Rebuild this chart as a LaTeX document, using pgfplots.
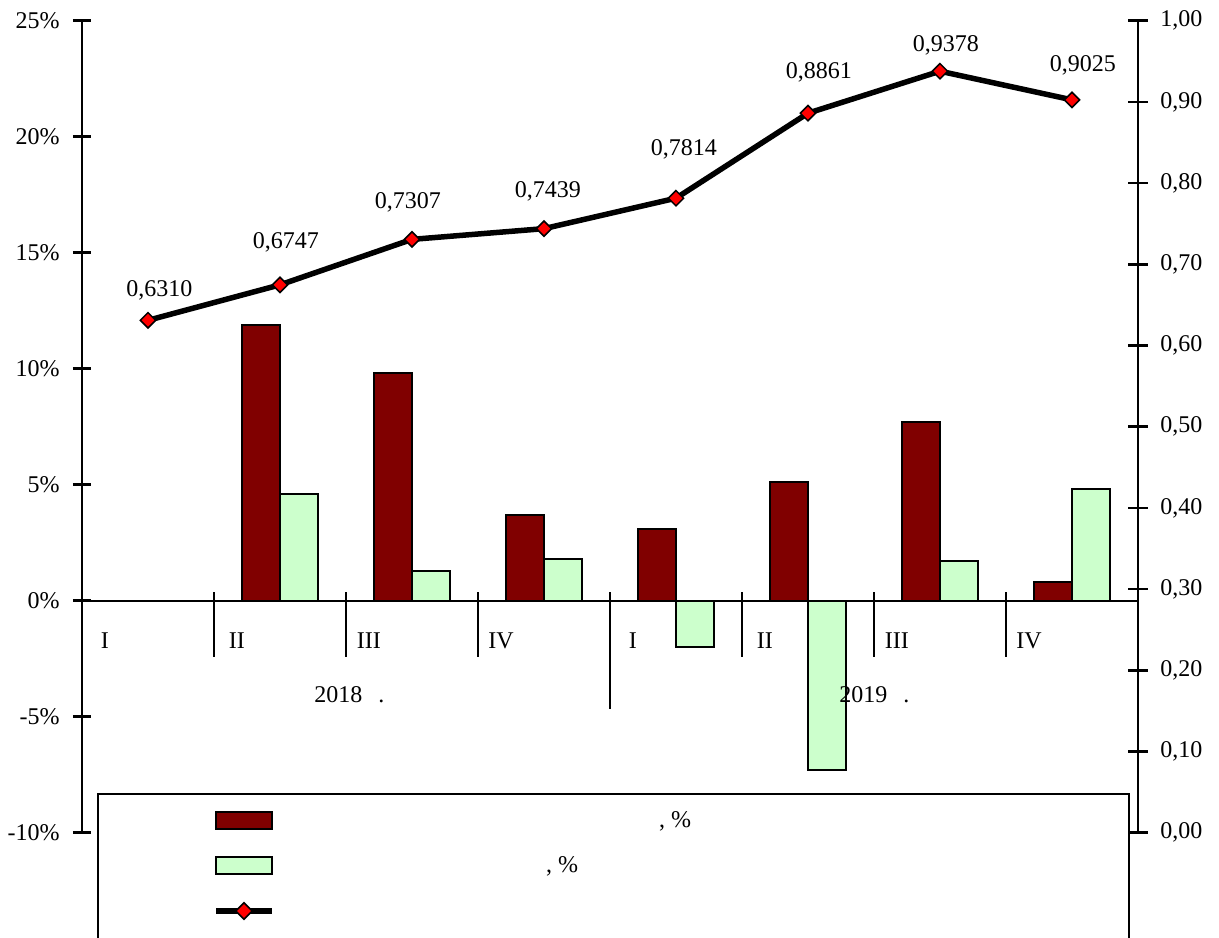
\documentclass[border=0pt]{standalone}
\usepackage{fontspec}
\setmainfont{Liberation Serif}
\usepackage{pgfplots}
\usepackage{pgfplotstable}
\pgfplotsset{compat=1.18}
\definecolor{barred}{RGB}{128,0,0}
\definecolor{bargreen}{RGB}{204,255,204}
\definecolor{mkred}{RGB}{255,0,0}
\pgfplotsset{
  mybarlegend/.style={legend image code/.code={%
      \path[draw=none, fill=none, line width=0pt] (-59bp,-11.25bp) rectangle (38bp,11.25bp);
      \draw[##1] (0bp,-4.25bp) rectangle (28bp,4.25bp);}},
  mylinelegend/.style={legend image code/.code={%
      \path[draw=none, fill=none, line width=0pt] (-59bp,-17bp) rectangle (38bp,11.25bp);
      \draw[mark repeat=2, mark phase=2, ##1] plot coordinates {(0bp,0bp) (14bp,0bp) (28bp,0bp)};}},
}
\pgfplotstableread{
x y dx dy label
0 0.6310 5.75 12   0,6310
1 0.6747 3    18   0,6747
2 0.7307 -2   15.5 0,7307
3 0.7439 2    15.5 0,7439
4 0.7814 4    21.5 0,7814
5 0.8861 5.5  17.5 0,8861
6 0.9378 3    10   0,9378
7 0.9025 5.5  14   0,9025
}\linedata
\pgfplotstableread{
x red green
1 11.9 4.6
2 9.8 1.3
3 3.7 1.8
4 3.1 -2.0
5 5.1 -7.3
6 7.7 1.7
7 0.8 4.8
}\bardata
\begin{document}
\fontsize{12bp}{14bp}\selectfont
\begin{tikzpicture}
\path[use as bounding box] (0,0) rectangle (609.5bp,469bp);
\begin{axis}[
  at={(41bp,52.65bp)}, anchor=south west,
  scale only axis, width=528bp, height=406bp,
  xmin=-0.5, xmax=7.5, ymin=-10, ymax=25,
  axis x line=none, axis y line*=left,
  axis line style={line width=1.35bp},
  ytick={-10,-5,0,5,10,15,20,25},
  yticklabels={-10\%,-5\%,0\%,5\%,10\%,15\%,20\%,25\%},
  tick align=center, major tick length=9bp,
  every tick/.style={black, line width=1.35bp},
  yticklabel style={anchor=east, inner sep=0pt, xshift=-6.5bp},
  clip=false,
]
\draw[line width=1bp] (axis cs:-0.5,0) -- (axis cs:7.5,0);
\draw[line width=1bp] (axis cs:0.5,0.37) -- (axis cs:0.5,-2.44);
\draw[line width=1bp] (axis cs:1.5,0.37) -- (axis cs:1.5,-2.44);
\draw[line width=1bp] (axis cs:2.5,0.37) -- (axis cs:2.5,-2.44);
\draw[line width=1bp] (axis cs:3.5,0.37) -- (axis cs:3.5,-4.68);
\draw[line width=1bp] (axis cs:4.5,0.37) -- (axis cs:4.5,-2.44);
\draw[line width=1bp] (axis cs:5.5,0.37) -- (axis cs:5.5,-2.44);
\draw[line width=1bp] (axis cs:6.5,0.37) -- (axis cs:6.5,-2.44);
\addplot[ybar, bar width=19bp, bar shift=-9.5bp, fill=barred, draw=black, line width=1bp]
  table[x=x, y=red] {\bardata};
\addplot[ybar, bar width=19bp, bar shift=9.5bp, fill=bargreen, draw=black, line width=1bp]
  table[x=x, y=green] {\bardata};
\node[anchor=base, inner sep=0pt] at (axis cs:-0.326,-2.05) {I};
\node[anchor=base, inner sep=0pt] at (axis cs:0.674,-2.05) {II};
\node[anchor=base, inner sep=0pt] at (axis cs:1.674,-2.05) {III};
\node[anchor=base, inner sep=0pt] at (axis cs:2.674,-2.05) {IV};
\node[anchor=base, inner sep=0pt] at (axis cs:3.674,-2.05) {I};
\node[anchor=base, inner sep=0pt] at (axis cs:4.674,-2.05) {II};
\node[anchor=base, inner sep=0pt] at (axis cs:5.674,-2.05) {III};
\node[anchor=base, inner sep=0pt] at (axis cs:6.674,-2.05) {IV};
\node[anchor=base west, inner sep=0pt] at (axis cs:1.2576,-4.375) {2018\hspace{8bp}.};
\node[anchor=base west, inner sep=0pt] at (axis cs:5.235,-4.375) {2019\hspace{8bp}.};
\end{axis}
\begin{axis}[
  at={(41bp,52.65bp)}, anchor=south west,
  scale only axis, width=528bp, height=406bp,
  xmin=-0.5, xmax=7.5, ymin=0, ymax=1,
  axis x line=none, axis y line*=right,
  axis line style={line width=1.35bp},
  ytick={0,0.1,0.2,0.3,0.4,0.5,0.6,0.7,0.8,0.9,1},
  yticklabels={{0,00},{0,10},{0,20},{0,30},{0,40},{0,50},{0,60},{0,70},{0,80},{0,90},{1,00}},
  tick align=center, major tick length=10bp,
  every tick/.style={black, line width=1.35bp},
  yticklabel style={anchor=west, inner sep=0pt, xshift=6bp},
  clip=false,
  legend cell align=left,
  legend style={at={(axis description cs:0.0142,0.0489)}, anchor=north west,
    draw=black, line width=1bp, fill=white,
    inner xsep=0pt, inner ysep=2.25bp, row sep=0pt, column sep=0pt,
    nodes={inner sep=0pt}},
]
\addplot[black, line width=2.75bp, mark=square*, forget plot,
  mark options={rotate=45, fill=mkred, draw=black, line width=0.75bp, solid},
  mark size=2.7bp,
  point meta=explicit symbolic,
  nodes near coords,
  visualization depends on={\thisrow{dx} \as \dx},
  visualization depends on={\thisrow{dy} \as \dy},
  every node near coord/.append style={anchor=base, inner sep=0pt, black,
     xshift=\dx*1bp, yshift=\dy*1bp}]
  table[x=x, y=y, meta=label] {\linedata};
\addlegendimage{mybarlegend, fill=barred, draw=black, line width=1bp}
\addlegendentry{\makebox[418.5bp][l]{\hspace{183.5bp}, \%}}
\addlegendimage{mybarlegend, fill=bargreen, draw=black, line width=1bp}
\addlegendentry{\makebox[418.5bp][l]{\hspace{127bp}, \%}}
\addlegendimage{mylinelegend, black, line width=2.75bp, mark=square*,
  mark options={rotate=45, fill=mkred, draw=black, line width=0.75bp, solid}, mark size=2.9bp}
\addlegendentry{\makebox[418.5bp][l]{\strut}}
\end{axis}
\end{tikzpicture}
\end{document}
